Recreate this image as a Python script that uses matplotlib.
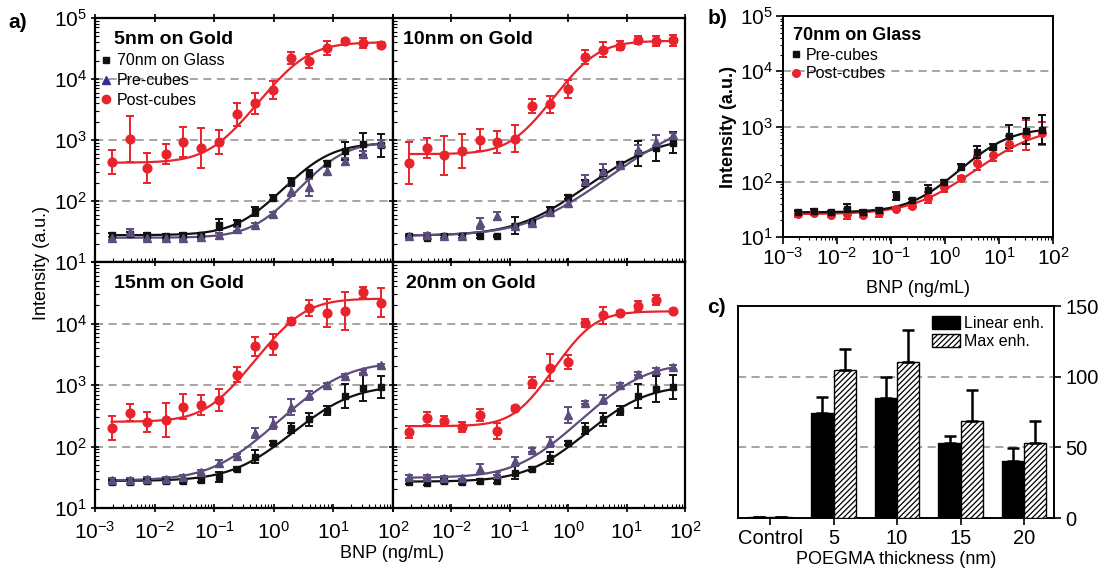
import numpy as np
import matplotlib
matplotlib.use('Agg')
import matplotlib.pyplot as plt
from matplotlib.lines import Line2D
from matplotlib.patches import Patch
from matplotlib.ticker import LogLocator, FuncFormatter, NullFormatter

plt.rcParams['font.family'] = ['Liberation Sans', 'DejaVu Sans']
plt.rcParams['mathtext.default'] = 'regular'
plt.rcParams['hatch.linewidth'] = 0.9

# BNP concentrations, 2-fold dilution series (ng/mL)
bnp = [0.0019, 0.0038, 0.0076, 0.0153, 0.0305, 0.061, 0.122, 0.244,
       0.488, 0.977, 1.95, 3.91, 7.81, 15.6, 31.3, 62.5]

# error bars given as half-width in decades (log10 units)
# --- 5nm on Gold
glass_5 = [27.5, 28.6, 27.5, 27, 27.5, 27.5, 41, 43, 68, 113, 208, 275, 412, 667, 849, 817]
glass_5_err = [0.03, 0.03, 0.03, 0.03, 0.03, 0.03, 0.096, 0.05, 0.077, 0.04, 0.066, 0.077, 0.04, 0.15, 0.18, 0.19]
pre_5 = [24.3, 30.5, 24.3, 24.9, 24.9, 25.5, 28.2, 34.5, 41, 61, 148, 168, 316, 445, 588, 904]
pre_5_err = [0.03, 0.05, 0.03, 0.03, 0.03, 0.03, 0.03, 0.03, 0.03, 0.04, 0.088, 0.14, 0.05, 0.05, 0.05, 0.04]
post_5 = [434, 1050, 345, 588, 927, 748, 927, 2620, 3970, 6670, 21900, 19800, 32000, 41200, 39200, 35500]
post_5_err = [0.20, 0.38, 0.25, 0.16, 0.24, 0.33, 0.19, 0.195, 0.17, 0.15, 0.10, 0.115, 0.115, 0.04, 0.08, 0.05]

# --- 10nm on Gold
glass_10 = [26.8, 24.9, 26.2, 26.2, 26.2, 26.8, 39, 44.5, 72, 116, 198, 286, 402, 603, 738, 904]
glass_10_err = [0.02, 0.02, 0.02, 0.02, 0.02, 0.02, 0.14, 0.03, 0.04, 0.03, 0.05, 0.05, 0.04, 0.2, 0.22, 0.17]
pre_10 = [26.8, 27.5, 26.8, 26.8, 43.4, 57.3, 39, 43.4, 65, 92.7, 216, 305, 382, 676, 927, 1194]
pre_10_err = [0.03, 0.03, 0.03, 0.03, 0.09, 0.066, 0.03, 0.03, 0.03, 0.03, 0.09, 0.12, 0.03, 0.08, 0.12, 0.04]
post_10 = [418, 738, 558, 650, 1000, 927, 1052, 3590, 3820, 6840, 23000, 30100, 35000, 43400, 42300, 43400]
post_10_err = [0.34, 0.157, 0.32, 0.28, 0.18, 0.18, 0.22, 0.11, 0.14, 0.15, 0.11, 0.12, 0.074, 0.07, 0.08, 0.09]

# --- 15nm on Gold
glass_15 = [26.8, 26.8, 27.6, 27.6, 27.6, 28.2, 32, 42.8, 68.4, 113, 203, 275, 382, 667, 881, 927]
glass_15_err = [0.03, 0.03, 0.03, 0.03, 0.03, 0.03, 0.077, 0.03, 0.1, 0.03, 0.08, 0.11, 0.077, 0.19, 0.21, 0.18]
pre_15 = [28.2, 29, 29.3, 29.3, 32, 38.2, 53, 71, 166, 243, 445, 676, 1012, 1425, 1660, 2085]
pre_15_err = [0.03, 0.03, 0.03, 0.03, 0.03, 0.03, 0.06, 0.03, 0.074, 0.1, 0.13, 0.07, 0.03, 0.03, 0.03, 0.03]
post_15 = [200, 354, 252, 268, 445, 474, 573, 1479, 4230, 4510, 10800, 17900, 14800, 15960, 32000, 21900]
post_15_err = [0.19, 0.14, 0.16, 0.28, 0.2, 0.16, 0.18, 0.12, 0.15, 0.17, 0.05, 0.13, 0.23, 0.31, 0.09, 0.23]

# --- 20nm on Gold
glass_20 = [26.8, 25.8, 27.6, 26.8, 27.6, 27.6, 37.7, 42.8, 65, 113, 195, 275, 382, 667, 859, 927]
glass_20_err = [0.03, 0.03, 0.03, 0.03, 0.03, 0.03, 0.11, 0.03, 0.096, 0.03, 0.093, 0.1, 0.077, 0.2, 0.21, 0.19]
pre_20 = [32, 32, 30.5, 31.2, 42.8, 36.3, 57.3, 88, 118, 324, 518, 588, 1011, 1538, 1746, 1981]
pre_20_err = [0.03, 0.03, 0.03, 0.03, 0.08, 0.03, 0.077, 0.03, 0.088, 0.13, 0.03, 0.074, 0.03, 0.03, 0.03, 0.03]
post_20 = [172, 286, 262, 208, 324, 179, 418, 1080, 1906, 2364, 10250, 13550, 15000, 19300, 23900, 15800]
post_20_err = [0.10, 0.10, 0.07, 0.08, 0.10, 0.13, 0.04, 0.09, 0.22, 0.12, 0.07, 0.14, 0.03, 0.08, 0.08, 0.03]

# 4PL fit parameters: bottom, top, EC50, hill
fit_glass = {'5': (27.5, 900, 5.6, 1.28), '10': (27, 1150, 17.5, 0.89),
             '15': (27.5, 1000, 11.5, 1.04), '20': (26.8, 1000, 11.5, 1.04)}
fit_pre = {'5': (25, 950, 10.0, 1.34), '10': (27, 2500, 84.5, 0.82),
           '15': (28, 2400, 10.3, 1.04), '20': (31, 2300, 12.9, 1.04)}
fit_post = {'5': (423, 40200, 2.8, 1.40), '10': (587, 42300, 2.33, 1.51),
            '15': (252, 25500, 2.48, 1.42), '20': (214, 15800, 2.1, 1.65)}

# --- panel b, 70nm on Glass
glass_pre = [28, 29.6, 28, 32.7, 28.8, 31.3, 54.6, 46.2, 70, 99, 186, 347, 428, 668, 834, 882]
glass_pre_err = [0.03, 0.03, 0.03, 0.085, 0.03, 0.03, 0.075, 0.03, 0.1, 0.04, 0.05, 0.11, 0.05, 0.21, 0.23, 0.27]
glass_post = [26.5, 27.2, 24.7, 26.5, 24.7, 27.2, 32.7, 36, 51.6, 80.5, 119, 219, 302, 492, 697, 747]
glass_post_err = [0.066, 0.03, 0.03, 0.09, 0.03, 0.075, 0.03, 0.03, 0.1, 0.09, 0.03, 0.12, 0.1, 0.14, 0.27, 0.21]
fit_b_pre = (28, 950, 9.0, 1.12)
fit_b_post = (26, 1000, 27, 0.91)

# --- panel c, enhancement factors
groups = ['Control', '5', '10', '15', '20']
linear_enh = [1, 74.5, 84.7, 52.8, 40.3]
linear_err = [0, 11, 15, 5.2, 9]
max_enh = [1, 104.5, 110.4, 68.4, 52.8]
max_err = [0, 15, 22.6, 22, 15.6]

RED = '#e8232b'
PURPLE = '#5d4d7d'
BLACK = '#111111'
GRID = '#a39c9c'
TICKSIZE = 15


def logistic(x, p):
    bottom, top, ec50, hill = p
    return bottom + (top - bottom) / (1 + (ec50 / x) ** hill)


def draw_series(ax, y, err, fit, color, marker, ms):
    x = np.array(bnp)
    y = np.array(y)
    e = np.array(err)
    yerr = [y - y * 10 ** -e, y * 10 ** e - y]
    xs = np.logspace(np.log10(x.min()), np.log10(x.max()), 300)
    ax.plot(xs, logistic(xs, fit), color=color, lw=1.6, zorder=3)
    ax.errorbar(x, y, yerr=yerr, fmt=marker, color=color, ms=ms, capsize=3,
                elinewidth=1.4, capthick=1.4, zorder=4)


def log_fmt(skip=None):
    def f(v, pos):
        k = int(round(np.log10(v)))
        if skip is not None and k == skip:
            return ''
        return r'$10^{%d}$' % k
    return FuncFormatter(f)


def style_log(ax, show_x, show_y, skip_x=None, skip_y=None):
    ax.set_xscale('log')
    ax.set_yscale('log')
    ax.set_xlim(1e-3, 1e2)
    ax.set_ylim(1e1, 1e5)
    for axis in (ax.xaxis, ax.yaxis):
        axis.set_major_locator(LogLocator(base=10, numticks=10))
        axis.set_minor_locator(LogLocator(base=10, subs=np.arange(2, 10), numticks=10))
        axis.set_minor_formatter(NullFormatter())
    ax.xaxis.set_major_formatter(log_fmt(skip_x) if show_x else NullFormatter())
    ax.yaxis.set_major_formatter(log_fmt(skip_y) if show_y else NullFormatter())
    ax.tick_params(which='major', direction='inout', length=6, width=1.2,
                   top=True, labelsize=TICKSIZE)
    ax.tick_params(axis='x', which='major', pad=6)
    ax.tick_params(axis='y', which='major', pad=3)
    ax.tick_params(which='minor', direction='in', length=3, width=0.8)
    for s in ax.spines.values():
        s.set_linewidth(1.6)
    for lvl in (1e2, 1e3, 1e4):
        ax.axhline(lvl, color=GRID, lw=1.3, ls=(0, (4.5, 3)), zorder=1)


fig = plt.figure(figsize=(11.06, 5.75), dpi=100)

# ---------------- panel a ----------------
L, M, R = 95 / 1106, 393 / 1106, 685 / 1106
T, H, B = 1 - 18 / 575, 1 - 262 / 575, 1 - 508 / 575
panels = [
    ('5', [L, H, M - L, T - H], False, True, None, None, (0.064, 0.913)),
    ('10', [M, H, R - M, T - H], False, False, None, None, (0.035, 0.913)),
    ('15', [L, B, M - L, H - B], True, True, None, 5, (0.064, 0.913)),
    ('20', [M, B, R - M, H - B], True, False, -3, None, (0.043, 0.913)),
]
data = {
    '5': (glass_5, glass_5_err, pre_5, pre_5_err, post_5, post_5_err),
    '10': (glass_10, glass_10_err, pre_10, pre_10_err, post_10, post_10_err),
    '15': (glass_15, glass_15_err, pre_15, pre_15_err, post_15, post_15_err),
    '20': (glass_20, glass_20_err, pre_20, pre_20_err, post_20, post_20_err),
}
for key, rect, show_x, show_y, skip_x, skip_y, tpos in panels:
    ax = fig.add_axes(rect)
    style_log(ax, show_x, show_y, skip_x, skip_y)
    g, ge, p, pe, q, qe = data[key]
    draw_series(ax, g, ge, fit_glass[key], BLACK, 's', 4.8)
    draw_series(ax, p, pe, fit_pre[key], PURPLE, '^', 6.3)
    draw_series(ax, q, qe, fit_post[key], RED, 'o', 6.3)
    ax.text(tpos[0], tpos[1], key + 'nm on Gold', transform=ax.transAxes,
            fontsize=14, fontweight='bold', va='center', ha='left')
    if key == '5':
        handles = [Line2D([], [], ls='', marker='s', color=BLACK, ms=5),
                   Line2D([], [], ls='', marker='^', color='#3a2f8f', ms=6),
                   Line2D([], [], ls='', marker='o', color=RED, ms=6)]
        ax.legend(handles, ['70nm on Glass', 'Pre-cubes', 'Post-cubes'],
                  loc='upper left', bbox_to_anchor=(0.02, 0.855), frameon=False,
                  fontsize=11.5, handlelength=0.6, handletextpad=0.4,
                  labelspacing=0.3, borderpad=0, borderaxespad=0)

fig.text(42 / 1106, 1 - 263 / 575, 'Intensity (a.u.)', rotation=90,
         ha='center', va='center', fontsize=13)
fig.text(392 / 1106, 1 - 554 / 575, 'BNP (ng/mL)', ha='center', va='center', fontsize=13)
fig.text(8 / 1106, 1 - 22 / 575, 'a)', fontsize=15, fontweight='bold', va='center')

# ---------------- panel b ----------------
axb = fig.add_axes([783 / 1106, 1 - 237 / 575, 270 / 1106, 221 / 575])
axb.set_xscale('log')
axb.set_yscale('log')
axb.set_xlim(1e-3, 1e2)
axb.set_ylim(1e1, 1e5)
for axis in (axb.xaxis, axb.yaxis):
    axis.set_major_locator(LogLocator(base=10, numticks=10))
    axis.set_minor_locator(LogLocator(base=10, subs=np.arange(2, 10), numticks=10))
    axis.set_minor_formatter(NullFormatter())
    axis.set_major_formatter(log_fmt())
axb.tick_params(which='major', direction='out', length=5, width=1.2, labelsize=TICKSIZE, pad=2)
axb.tick_params(which='minor', direction='out', length=2.5, width=0.8)
for s in axb.spines.values():
    s.set_linewidth(1.4)
for lvl in (1e2, 1e3, 1e4):
    axb.axhline(lvl, color=GRID, lw=1.3, ls=(0, (4.5, 3)), zorder=1)
draw_series(axb, glass_post, glass_post_err, fit_b_post, RED, 'o', 5.5)
draw_series(axb, glass_pre, glass_pre_err, fit_b_pre, BLACK, 's', 4.5)
axb.text(0.038, 0.914, '70nm on Glass', transform=axb.transAxes,
         fontsize=13, fontweight='bold', va='center')
hb = [Line2D([], [], ls='', marker='s', color=BLACK, ms=5),
      Line2D([], [], ls='', marker='o', color=RED, ms=5.5)]
axb.legend(hb, ['Pre-cubes', 'Post-cubes'], loc='upper left',
           bbox_to_anchor=(0.03, 0.855), frameon=False, fontsize=11.5,
           handlelength=0.6, handletextpad=0.3, labelspacing=0.2,
           borderpad=0, borderaxespad=0)
axb.set_ylabel('Intensity (a.u.)', fontsize=13, fontweight='bold', labelpad=2)
axb.set_xlabel('BNP (ng/mL)', fontsize=13, labelpad=8)
fig.text(708 / 1106, 1 - 18 / 575, 'b)', fontsize=15, fontweight='bold', va='center')

# ---------------- panel c ----------------
axc = fig.add_axes([737.7 / 1106, 1 - 518 / 575, 316.3 / 1106, 212 / 575])
pos = np.arange(len(groups))
w = 0.35
axc.bar(pos - w / 2, linear_enh, w, color='black', edgecolor='black', lw=1.0,
        yerr=[np.zeros(len(groups)), linear_err], error_kw=dict(ecolor='black', elinewidth=1.8,
        capsize=4.5, capthick=1.8), zorder=3, label='Linear enh.')
axc.bar(pos + w / 2, max_enh, w, color='white', edgecolor='black', lw=1.0, hatch='//////',
        yerr=[np.zeros(len(groups)), max_err], error_kw=dict(ecolor='black', elinewidth=1.8,
        capsize=4.5, capthick=1.8), zorder=3, label='Max enh.')
axc.set_xlim(-0.51, 4.47)
axc.set_ylim(0, 150)
axc.set_xticks(pos)
axc.set_xticklabels(groups)
axc.yaxis.tick_right()
axc.set_yticks([0, 50, 100, 150])
axc.tick_params(axis='both', direction='out', length=5, width=1.2, labelsize=14.5, pad=3)
axc.tick_params(axis='y', left=False)
for s in axc.spines.values():
    s.set_linewidth(1.4)
for lvl in (50, 100):
    axc.axhline(lvl, color=GRID, lw=1.3, ls=(0, (4.5, 3)), zorder=1)
axc.set_xlabel('POEGMA thickness (nm)', fontsize=13, labelpad=2)
hc = [Patch(facecolor='black', edgecolor='black'),
      Patch(facecolor='white', edgecolor='black', hatch='//////')]
axc.legend(hc, ['Linear enh.', 'Max enh.'], loc='upper right',
           bbox_to_anchor=(0.97, 0.955), frameon=False, fontsize=11.5,
           handlelength=1.7, handleheight=0.9, handletextpad=0.3,
           labelspacing=0.2, borderpad=0, borderaxespad=0)
fig.text(707 / 1106, 1 - 308 / 575, 'c)', fontsize=15, fontweight='bold', va='center')

fig.savefig('out.png', dpi=100)
